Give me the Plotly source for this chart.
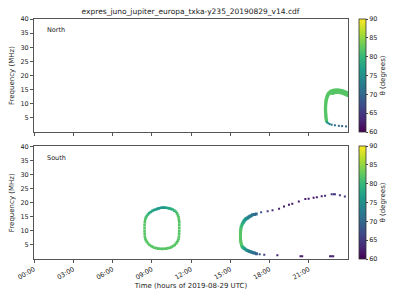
import plotly.graph_objects as go
from plotly.subplots import make_subplots

# ---------------- data ----------------
# North hemisphere (top panel): time (h), frequency (MHz), theta (deg)
north_t = [22.36, 22.33, 22.31, 22.3, 22.29, 22.28, 22.28, 22.28, 22.29, 22.3,
           22.32, 22.34, 22.37, 22.4, 22.44, 22.48, 22.53, 22.58, 22.65, 22.72,
           22.8, 22.9, 23.0, 23.1, 23.2, 23.3, 23.4, 23.5, 23.6, 23.7,
           23.8, 23.9, 24.0,
           22.8, 22.9, 23.0, 23.1, 23.2, 23.3, 23.4, 23.5, 23.6, 23.7, 23.8, 23.9, 24.0]
north_f = [4.0, 4.7, 5.4, 6.1, 6.8, 7.5, 8.2, 8.9, 9.6, 10.3,
           10.9, 11.5, 12.0, 12.5, 12.9, 13.3, 13.6, 13.9, 14.2, 14.4,
           14.6, 14.7, 14.8, 14.8, 14.8, 14.8, 14.7, 14.6, 14.5, 14.3,
           14.1, 13.9, 13.7,
           13.7, 13.9, 14.0, 14.1, 14.1, 14.0, 14.0, 13.9, 13.8, 13.6, 13.4, 13.2, 13.0]
north_th = [81, 82, 82, 82, 82, 82, 82, 82, 82, 82,
            82, 82, 82, 82, 82, 82, 82, 82, 82, 82,
            82, 82, 82, 82, 82, 82, 82, 82, 82, 82,
            82, 82, 82,
            82, 82, 82, 82, 82, 82, 82, 82, 82, 82, 82, 82, 82]

north_low_t = [22.4, 22.5, 22.6, 22.75, 23.0, 23.3, 23.55, 23.85]
north_low_f = [3.4, 3.1, 2.8, 2.6, 2.4, 2.2, 2.1, 2.0]
north_low_th = [76, 74, 73, 72, 71, 71, 70, 70]

# South hemisphere (bottom panel): closed loop around 9-11 h
loop_t = [9.7, 9.83, 9.96, 10.08, 10.2, 10.33, 10.47, 10.6, 10.73, 10.85,
          10.93, 11.0, 11.05, 11.08, 11.1, 11.1, 11.1, 11.1, 11.09, 11.08,
          11.05, 11.0, 10.93, 10.85, 10.75, 10.65, 10.52, 10.4, 10.25, 10.1,
          9.95, 9.8, 9.65, 9.5, 9.35, 9.2, 9.07, 8.95, 8.83, 8.72,
          8.63, 8.55, 8.5, 8.47, 8.46, 8.45, 8.45, 8.45, 8.47, 8.5,
          8.55, 8.62, 8.7, 8.8, 8.92, 9.05, 9.17, 9.3, 9.42, 9.55]
loop_f = [18.2, 18.25, 18.25, 18.2, 18.1, 18.0, 17.8, 17.6, 17.2, 16.8,
          16.2, 15.5, 14.8, 14.0, 13.0, 12.0, 11.0, 10.0, 9.0, 8.0,
          7.2, 6.5, 6.0, 5.5, 5.0, 4.6, 4.3, 4.0, 3.85, 3.7,
          3.65, 3.6, 3.65, 3.7, 3.85, 4.0, 4.3, 4.6, 5.0, 5.5,
          6.1, 6.7, 7.3, 8.0, 9.0, 10.0, 11.0, 12.0, 13.0, 14.0,
          14.7, 15.3, 15.8, 16.3, 16.7, 17.1, 17.4, 17.6, 17.8, 18.0]
loop_th = [76, 76, 76, 77, 77, 78, 78, 79, 80, 81,
           81, 82, 82, 82, 82, 82, 82, 82, 82, 82,
           82, 82, 82, 82, 82, 82, 82, 82, 82, 82,
           82, 82, 82, 82, 82, 82, 82, 82, 82, 82,
           82, 82, 82, 82, 82, 82, 82, 82, 82, 82,
           81, 81, 80, 79, 78, 78, 77, 77, 76, 76]

# South: parabola-like structure from 15.8 h onward (dense part)
arc_t = [15.86, 15.83, 15.8, 15.79, 15.78, 15.78, 15.78, 15.78, 15.79, 15.8,
         15.82, 15.85, 15.9, 15.95, 16.0, 16.05, 16.1, 16.16, 16.22, 16.28,
         16.35, 16.42, 16.5, 16.6, 16.7, 16.84, 16.98,
         15.9, 15.95, 16.02, 16.1, 16.2, 16.3, 16.4, 16.48, 16.56, 16.65,
         16.75, 16.85, 17.0]
arc_f = [5.0, 5.6, 6.2, 6.8, 7.4, 8.0, 8.6, 9.2, 9.8, 10.4,
         11.0, 11.6, 12.2, 12.7, 13.1, 13.5, 13.8, 14.1, 14.3, 14.5,
         14.7, 14.9, 15.2, 15.4, 15.7, 15.85, 16.0,
         4.5, 4.2, 3.9, 3.6, 3.3, 3.0, 2.85, 2.7, 2.55, 2.4,
         2.25, 2.1, 1.85]
arc_th = [82, 82, 82, 82, 82, 82, 82, 82, 82, 82,
          81, 81, 80, 79, 78, 77, 77, 76, 75, 75,
          74, 73, 73, 72, 72, 71, 70,
          81, 80, 78, 77, 76, 75, 74, 73, 72, 72,
          71, 71, 69]

# South: sparse dots further out
sparse_t = [17.36, 17.86, 18.23, 18.73, 19.11, 19.49, 19.74, 20.24, 20.74, 20.99,
            21.37, 21.62, 21.99, 22.25, 22.75, 22.9, 23.0, 23.38, 23.76,
            17.25, 17.6, 18.6, 20.37, 20.5, 22.63, 22.75, 22.87]
sparse_f = [16.6, 17.0, 17.3, 17.9, 18.7, 19.3, 19.6, 20.4, 21.3, 21.4,
            21.8, 21.95, 22.3, 22.5, 23.0, 23.0, 23.0, 22.65, 22.2,
            1.7, 1.5, 1.3, 0.95, 0.95, 0.95, 0.95, 0.95]
sparse_th = [68, 66, 64, 63, 62, 62, 62, 62, 62, 62,
             62, 63, 63, 64, 65, 65, 65, 65, 65,
             68, 66, 63, 62, 62, 63, 63, 63]

xtick_vals = [0, 3, 6, 9, 12, 15, 18, 21]
xtick_text = ["00:00", "03:00", "06:00", "09:00", "12:00", "15:00", "18:00", "21:00"]
ytick_vals = [5, 10, 15, 20, 25, 30, 35, 40]
cbar_ticks = [60, 65, 70, 75, 80, 85, 90]

# ---------------- figure ----------------
FONT = "DejaVu Sans"
fig = make_subplots(rows=2, cols=1, shared_xaxes=True, vertical_spacing=0.06)

def add(t, f, th, row, axis, size):
    fig.add_trace(go.Scatter(x=t, y=f, mode="markers",
                             marker=dict(symbol="square", size=size, color=th,
                                         coloraxis=axis, line=dict(width=0)),
                             showlegend=False, hoverinfo="skip"), row=row, col=1)

add(north_t, north_f, north_th, 1, "coloraxis", 3.2)
add(north_low_t, north_low_f, north_low_th, 1, "coloraxis", 2)
add(loop_t, loop_f, loop_th, 2, "coloraxis2", 2.6)
add(arc_t, arc_f, arc_th, 2, "coloraxis2", 3)
add(sparse_t, sparse_f, sparse_th, 2, "coloraxis2", 2)

cb_common = dict(thickness=7, x=(361 - 31) / 319, xanchor="left", xpad=0, ypad=0,
                 len=0.47, lenmode="fraction",
                 tickvals=cbar_ticks, ticks="outside", ticklen=2,
                 tickfont=dict(size=6.5, family=FONT, color="#222"),
                 outlinewidth=0.8, outlinecolor="#333",
                 title=dict(text="θ (degrees)", side="right",
                            font=dict(size=7, family=FONT, color="#222")))

fig.update_layout(
    width=400, height=300,
    margin=dict(l=31, r=50, t=19, b=38),
    paper_bgcolor="white", plot_bgcolor="white",
    font=dict(family=FONT, size=7, color="#222"),
    title=dict(text="expres_juno_jupiter_europa_txka-y235_20190829_v14.cdf",
               x=(31 + 350) / 2 / 400, xanchor="center", y=1 - 11.5 / 300, yanchor="middle",
               font=dict(size=7.5, family=FONT, color="#222")),
    coloraxis=dict(colorscale="Viridis", cmin=60, cmax=90,
                   colorbar=dict(y=1.0, yanchor="top", **cb_common)),
    coloraxis2=dict(colorscale="Viridis", cmin=60, cmax=90,
                    colorbar=dict(y=0.0, yanchor="bottom", **cb_common)),
)

fig.update_layout(
    yaxis=dict(domain=[0.529, 1.0]),
    yaxis2=dict(domain=[0.0, 0.469]),
)

for r in (1, 2):
    fig.update_xaxes(range=[0, 24], tickvals=xtick_vals, ticktext=xtick_text,
                     showgrid=False, zeroline=False, showline=True, mirror=True,
                     linecolor="#555", linewidth=1, ticks="outside", ticklen=3,
                     tickcolor="#555", row=r, col=1)
    fig.update_yaxes(range=[0, 40], tickvals=ytick_vals, showgrid=False, zeroline=False,
                     showline=True, mirror=True, linecolor="#555", linewidth=1,
                     ticks="outside", ticklen=3, tickcolor="#555",
                     tickfont=dict(size=6.5),
                     title=dict(text="Frequency (MHz)", font=dict(size=7), standoff=4),
                     row=r, col=1)

fig.update_xaxes(showticklabels=False, row=1, col=1)
fig.update_xaxes(tickangle=-30, tickfont=dict(size=6.5),
                 title=dict(text="Time (hours of 2019-08-29 UTC)", font=dict(size=7), standoff=2),
                 row=2, col=1)

fig.add_annotation(text="North", xref="x domain", yref="y domain", x=0.036, y=0.9,
                   xanchor="left", yanchor="middle", showarrow=False, font=dict(size=6.5))
fig.add_annotation(text="South", xref="x2 domain", yref="y2 domain", x=0.036, y=0.9,
                   xanchor="left", yanchor="middle", showarrow=False, font=dict(size=6.5))

fig.write_html("out.html")
